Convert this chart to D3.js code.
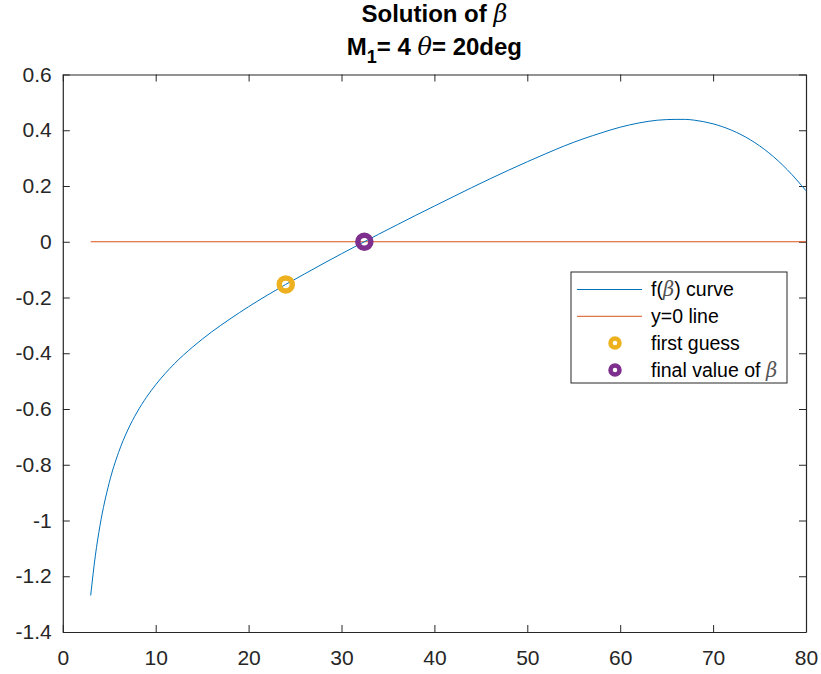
<!DOCTYPE html>
<html>
<head>
<meta charset="utf-8">
<script src="https://cdn.jsdelivr.net/npm/d3@7"></script>
<style>
  body { margin: 0; background: #fff; }
  text { font-family: "Liberation Sans", Arial, Helvetica, sans-serif; }
</style>
</head>
<body>
<svg id="chart" width="821" height="674"></svg>
<script>
// beta (deg) and f(beta)
const betaDeg = [3, 3.5, 4, 5, 6, 7, 8, 9, 10, 12, 14, 16, 18, 20, 22, 24, 26, 28, 30, 32,
  34, 36, 38, 40, 42, 44, 46, 48, 50, 52, 54, 56, 58, 60, 62, 64, 66, 67, 68, 70, 72, 74, 76, 78, 80];
const fBeta = [-1.269, -1.127, -1.019, -0.864, -0.756, -0.675, -0.611, -0.558, -0.513, -0.438,
  -0.377, -0.324, -0.277, -0.233, -0.192, -0.153, -0.116, -0.079, -0.043, -0.008,
  0.027, 0.061, 0.095, 0.128, 0.161, 0.194, 0.226, 0.257, 0.287, 0.316, 0.344, 0.369,
  0.391, 0.411, 0.426, 0.436, 0.439, 0.439, 0.436, 0.423, 0.400, 0.366, 0.319, 0.258, 0.183];
const zeroLineX = [3, 80];
const zeroLineY = [0, 0];
const firstGuess = [24, -0.153];
const finalValue = [32.46, 0];
const xTicks = [0, 10, 20, 30, 40, 50, 60, 70, 80];
const yTicks = [-1.4, -1.2, -1, -0.8, -0.6, -0.4, -0.2, 0, 0.2, 0.4, 0.6];

const svg = d3.select("#chart");
const plotLeft = 62.8, plotRight = 806, plotTop = 74.5, plotBottom = 632;
const axisColor = "#262626";

const x = d3.scaleLinear().domain([0, 80]).range([plotLeft, plotRight]);
const y = d3.scaleLinear().domain([-1.4, 0.6]).range([plotBottom, plotTop]);

// axes with inward ticks, box on
const fmt = d => String(+d.toFixed(1));
const gx = svg.append("g").attr("transform", `translate(0,${plotBottom})`)
  .call(d3.axisBottom(x).tickValues(xTicks).tickSizeInner(-7).tickSizeOuter(0).tickPadding(18).tickFormat(fmt));
const gy = svg.append("g").attr("transform", `translate(${plotLeft},0)`)
  .call(d3.axisLeft(y).tickValues(yTicks).tickSizeInner(-7).tickSizeOuter(0).tickPadding(11).tickFormat(fmt));
const gt = svg.append("g").attr("transform", `translate(0,${plotTop})`)
  .call(d3.axisTop(x).tickValues(xTicks).tickSizeInner(-7).tickSizeOuter(0).tickFormat(""));
const gr = svg.append("g").attr("transform", `translate(${plotRight},0)`)
  .call(d3.axisRight(y).tickValues(yTicks).tickSizeInner(-7).tickSizeOuter(0).tickFormat(""));

[gx, gy, gt, gr].forEach(g => {
  g.select(".domain").attr("stroke", axisColor).attr("stroke-width", 1.2);
  g.selectAll(".tick line").attr("stroke", axisColor);
  g.selectAll(".tick text").attr("fill", axisColor).attr("font-size", 21);
});

// curves
const line = d3.line().x(d => x(d[0])).y(d => y(d[1])).curve(d3.curveMonotoneX);
svg.append("path")
  .attr("d", line(d3.zip(zeroLineX, zeroLineY)))
  .attr("fill", "none").attr("stroke", "#D95319").attr("stroke-width", 1);
svg.append("path")
  .attr("d", line(d3.zip(betaDeg, fBeta)))
  .attr("fill", "none").attr("stroke", "#0072BD").attr("stroke-width", 1);

// markers
svg.append("circle").attr("cx", x(firstGuess[0])).attr("cy", y(firstGuess[1])).attr("r", 6.5)
  .attr("fill", "none").attr("stroke", "#EDB120").attr("stroke-width", 5.5);
svg.append("circle").attr("cx", x(finalValue[0])).attr("cy", y(finalValue[1])).attr("r", 6.5)
  .attr("fill", "none").attr("stroke", "#7E2F8E").attr("stroke-width", 5.5);

// title
const title = svg.append("g").attr("text-anchor", "middle").attr("font-size", 24)
  .attr("font-weight", "bold").attr("fill", "#000");
const t1 = title.append("text").attr("x", (plotLeft + plotRight) / 2).attr("y", 22);
t1.append("tspan").text("Solution of ");
t1.append("tspan").attr("font-style", "italic").attr("font-weight", "normal")
  .attr("font-family", "'DejaVu Serif', serif").text("β");
const t2 = title.append("text").attr("x", (plotLeft + plotRight) / 2).attr("y", 55);
t2.append("tspan").text("M");
t2.append("tspan").attr("dy", 8).attr("font-size", 18).text("1");
t2.append("tspan").attr("dy", -8).text("= 4 ");
t2.append("tspan").attr("font-style", "italic").attr("font-weight", "normal")
  .attr("font-family", "'DejaVu Serif', serif").text("θ");
t2.append("tspan").text("= 20deg");

// legend
const lg = svg.append("g");
lg.append("rect").attr("x", 571).attr("y", 272).attr("width", 216).attr("height", 111)
  .attr("fill", "#fff").attr("stroke", axisColor).attr("stroke-width", 1);
const rowY = i => 289.5 + i * 26.8;
const items = [
  { type: "line", color: "#0072BD", label: ["f(", "β", ") curve"] },
  { type: "line", color: "#D95319", label: ["y=0 line"] },
  { type: "mark", color: "#EDB120", label: ["first guess"] },
  { type: "mark", color: "#7E2F8E", label: ["final value of ", "β"] }
];
items.forEach((it, i) => {
  if (it.type === "line") {
    lg.append("line").attr("x1", 577).attr("x2", 642).attr("y1", rowY(i)).attr("y2", rowY(i))
      .attr("stroke", it.color).attr("stroke-width", 1);
  } else {
    lg.append("circle").attr("cx", 615).attr("cy", rowY(i)).attr("r", 4.5)
      .attr("fill", "none").attr("stroke", it.color).attr("stroke-width", 4.5);
  }
  const t = lg.append("text").attr("x", 651).attr("y", rowY(i)).attr("dy", "0.35em")
    .attr("font-size", 19.5).attr("fill", "#000");
  it.label.forEach(s => {
    const sp = t.append("tspan").text(s);
    if (s === "β") sp.attr("font-style", "italic").attr("font-family", "'DejaVu Serif', serif").attr("fill", "#555");
  });
});
</script>
</body>
</html>
